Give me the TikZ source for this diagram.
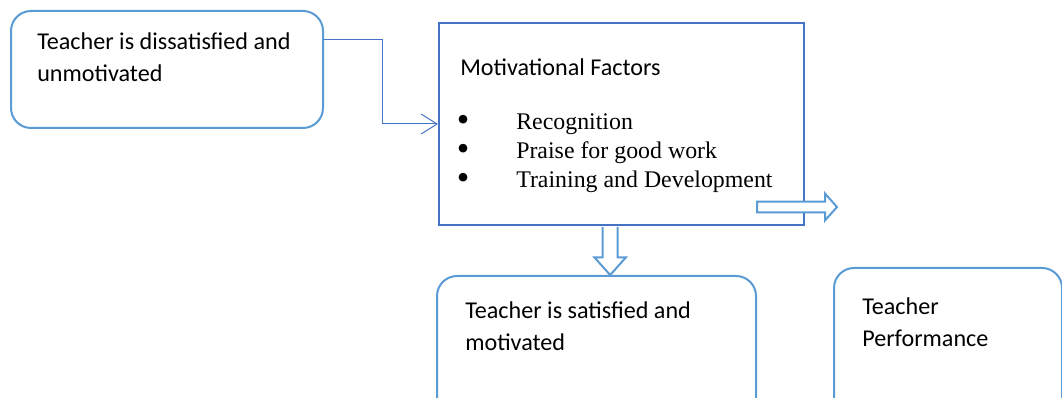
\documentclass[tikz,border=0pt]{standalone}
\usepackage{fontspec}
\setmainfont{Carlito}
\newfontfamily\timesfont{Liberation Serif}
\usepackage{tikz}
\usetikzlibrary{calc, positioning, arrows.meta}
\definecolor{boxblue}{HTML}{5B9BD5}
\definecolor{edgeblue}{HTML}{4472C4}
\tikzset{
    roundbox/.style={rectangle, draw=boxblue, line width=1.5pt, rounded corners=15pt, anchor=north west, inner sep=0pt},
    mainbox/.style={rectangle, draw=edgeblue, line width=1.5pt, anchor=north west, inner sep=0pt},
    lbl/.style={anchor=base west, inner sep=0pt, align=left, font=\fontsize{18.1}{24}\selectfont},
    bulletlist/.style={anchor=base west, inner sep=0pt, align=left, font=\timesfont\fontsize{17.9}{21.75}\selectfont},
    conn/.style={draw=edgeblue, line width=0.75pt, -{Straight Barb[length=12pt, width=15pt]}},
    blockarrow/.style={draw=boxblue, line width=1.5pt, fill=white, line join=miter}
}
\newcommand{\bitem}[1]{\makebox[44.5pt][l]{\smash{\raisebox{-1pt}{\scalebox{1.5}{\textbullet}}}}#1}

\begin{document}
\begin{tikzpicture}
        \useasboundingbox (0,0) rectangle (796.5pt,-298.5pt);

        % Boxes
        \node[roundbox, minimum width=234pt, minimum height=87.75pt] (dis) at (7.5pt,-7.5pt) {};
        \node[mainbox, minimum width=273.75pt, minimum height=151.5pt] (mot) at (328.5pt,-16.5pt) {};
        \node[roundbox, minimum width=239.25pt, minimum height=130pt] (sat) at (327pt,-206.25pt) {};
        \node[roundbox, minimum width=171pt, minimum height=130pt] (perf) at (624.75pt,-200.25pt) {};

        % Texts (base = last line)
        \node[lbl] (distext) at ($(dis.north west)+(20.25pt,-54pt)$) {Teacher is dissatisfied and\\unmotivated};
        \node[lbl] (mottitle) at ($(mot.north west)+(16.5pt,-40.5pt)$) {Motivational Factors};
        \node[bulletlist] (motlist) at ($(mot.north west)+(14pt,-124.5pt)$) {\bitem{Recognition}\\\bitem{Praise for good work}\\\bitem{Training and Development}};
        \node[lbl] (sattext) at ($(sat.north west)+(21.75pt,-56.25pt)$) {Teacher is satisfied and\\motivated};
        \node[lbl] (perftext) at ($(perf.north west)+(21.75pt,-60pt)$) {Teacher\\Performance};

        % Connections
        \draw[conn] ([yshift=22.5pt]dis.east) -- ++(43.5pt,0) |- (mot.west);

        \coordinate (dtop) at ([xshift=-8.5pt]mot.south);
        \coordinate (dtip) at (dtop |- sat.north);
        \draw[blockarrow] ($(dtop)+(-5.6pt,-0.75pt)$) -- ($(dtip)+(-5.6pt,13.3pt)$) -- ($(dtip)+(-11.9pt,13.3pt)$) -- (dtip)
            -- ($(dtip)+(11.9pt,13.3pt)$) -- ($(dtip)+(5.6pt,13.3pt)$) -- ($(dtop)+(5.6pt,-0.75pt)$);

        \coordinate (rtail) at ([xshift=-36pt, yshift=-62.25pt]mot.east);
        \draw[blockarrow] ($(rtail)+(0,4.1pt)$) -- ++(51pt,0) -- ++(0,6pt) -- ($(rtail)+(60pt,0)$)
            -- ($(rtail)+(51pt,-10.1pt)$) -- ++(0,6pt) -- ($(rtail)+(0,-4.1pt)$) -- cycle;
\end{tikzpicture}
\end{document}
